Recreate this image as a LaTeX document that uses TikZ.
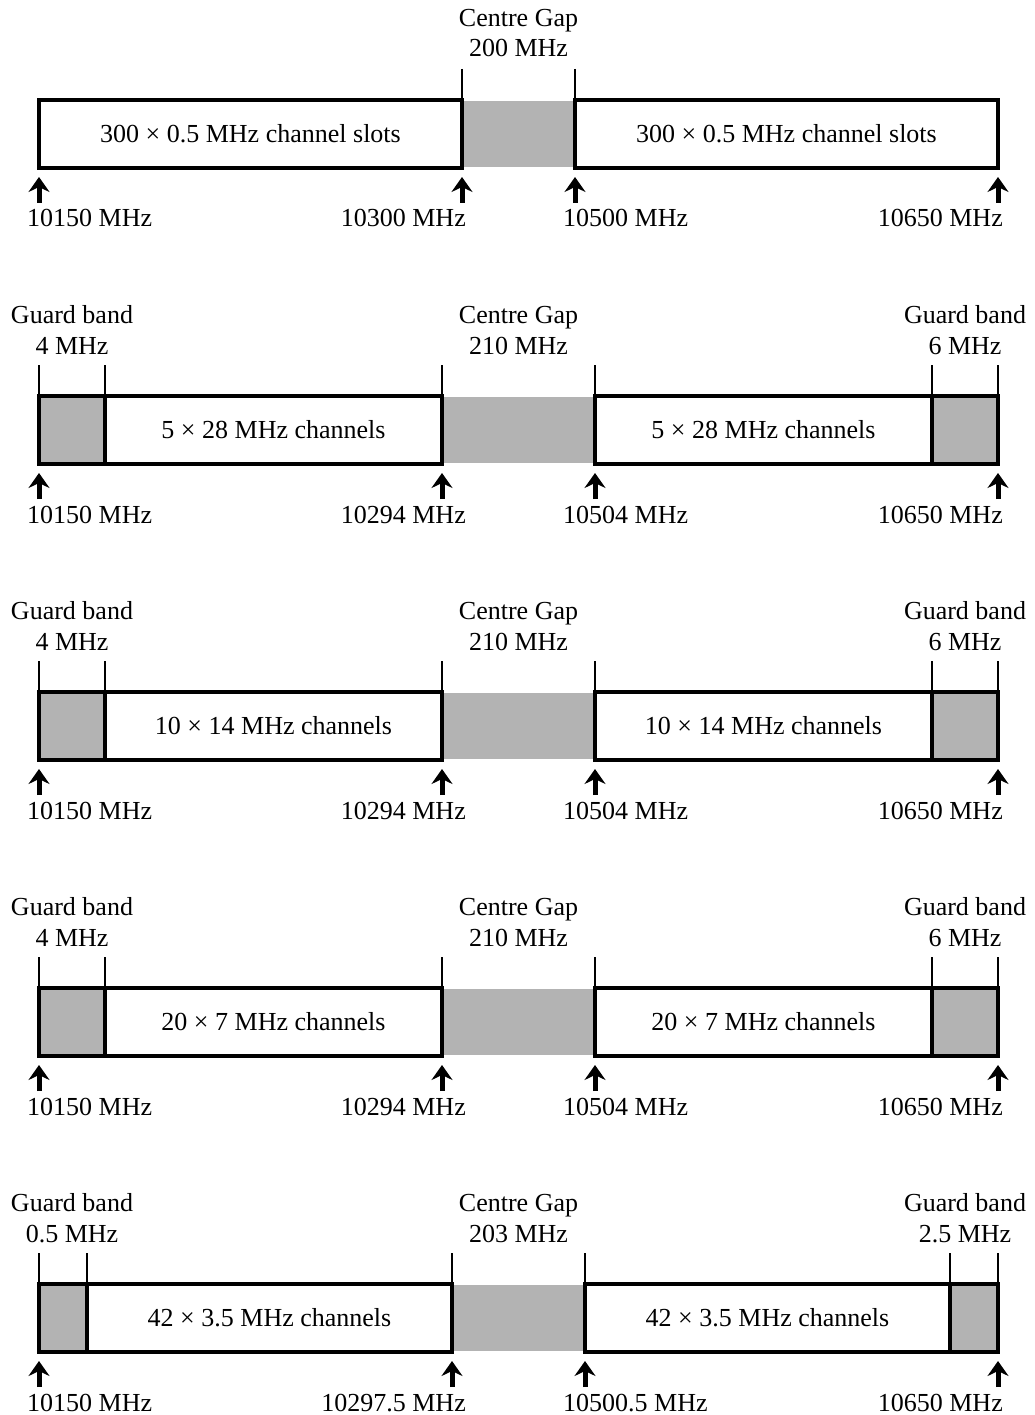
\documentclass[tikz,border=0pt]{standalone}
\usepackage{fontspec}
\setmainfont{Liberation Serif}
\usetikzlibrary{arrows.meta}
\definecolor{gapgray}{RGB}{179,179,179}
\tikzset{
  lbl/.style={font=\fontsize{26}{31}\selectfont, inner sep=0pt, anchor=base},
  chan/.style={draw=black, line width=4pt, fill=white, inner sep=0pt, outer sep=0pt, minimum height=68pt, font=\fontsize{26}{31}\selectfont},
  guard/.style={chan, fill=gapgray},
  gapfill/.style={fill=gapgray, inner sep=0pt, outer sep=0pt, minimum height=66pt},
  tick/.style={line width=1.3pt},
  uparrow/.style={line width=5pt, -{Stealth[length=15pt 0,width=21pt 0,inset=5pt 0]}},
}
\begin{document}
\begin{tikzpicture}[x=1pt,y=-1pt]
\useasboundingbox (0,0) rectangle (1034,1415);
% ---------- Row 1 ----------
\node[gapfill, minimum width=113pt] (gap1) at (518.5,134) {};
\node[chan, minimum width=423pt] (cl1) at (250.5,134) {300 × 0.5 MHz channel slots};
\node[chan, minimum width=423pt] (cr1) at (786.5,134) {300 × 0.5 MHz channel slots};
\node[lbl] (gapt1) at (518.5,27) {Centre Gap};
\node[lbl] (gapv1) at (518.5,57) {200 MHz};
\coordinate (t1b) at (462,69);
\coordinate (t1c) at (575,69);
\draw[tick] (t1b) -- (cl1.north east);
\draw[tick] (t1c) -- (cr1.north west);
\coordinate (a1at) at (39,203);  \coordinate (a1ah) at (39,177);
\coordinate (a1bt) at (462,203); \coordinate (a1bh) at (462,177);
\coordinate (a1ct) at (575,203); \coordinate (a1ch) at (575,177);
\coordinate (a1dt) at (998,203); \coordinate (a1dh) at (998,177);
\draw[uparrow] (a1at) -- (a1ah);
\draw[uparrow] (a1bt) -- (a1bh);
\draw[uparrow] (a1ct) -- (a1ch);
\draw[uparrow] (a1dt) -- (a1dh);
\node[lbl, anchor=base west] (f1a) at (27,227) {10150 MHz};
\node[lbl, anchor=base east] (f1b) at (466,227) {10300 MHz};
\node[lbl, anchor=base west] (f1c) at (563,227) {10500 MHz};
\node[lbl, anchor=base east] (f1d) at (1003,227) {10650 MHz};
% ---------- Rows 2-5 ----------
\foreach \r/\yt/\xa/\xb/\xc/\xd/\txt/\gl/\gap/\gr/\lb/\lc in {
  2/396/105/442/595/932/5 × 28 MHz channels/4 MHz/210 MHz/6 MHz/10294 MHz/10504 MHz,
  3/692/105/442/595/932/10 × 14 MHz channels/4 MHz/210 MHz/6 MHz/10294 MHz/10504 MHz,
  4/988/105/442/595/932/20 × 7 MHz channels/4 MHz/210 MHz/6 MHz/10294 MHz/10504 MHz,
  5/1284/87/452/585/950/42 × 3.5 MHz channels/0.5 MHz/203 MHz/2.5 MHz/10297.5 MHz/10500.5 MHz}
{
  \node[gapfill, minimum width={(\xc-\xb)*1pt}] (gap\r) at ({(\xb+\xc)/2},{\yt+34}) {};
  \node[guard, minimum width={(\xa-39)*1pt}] (gl\r) at ({(39+\xa)/2},{\yt+34}) {};
  \node[chan, minimum width={(\xb-\xa)*1pt}] (cl\r) at ({(\xa+\xb)/2},{\yt+34}) {\txt};
  \node[chan, minimum width={(\xd-\xc)*1pt}] (cr\r) at ({(\xc+\xd)/2},{\yt+34}) {\txt};
  \node[guard, minimum width={(998-\xd)*1pt}] (gr\r) at ({(\xd+998)/2},{\yt+34}) {};
  % top labels
  \node[lbl] (glt\r) at (72,{\yt-73}) {Guard band};
  \node[lbl] (glv\r) at (72,{\yt-42}) {\gl};
  \node[lbl] (gapt\r) at (518.5,{\yt-73}) {Centre Gap};
  \node[lbl] (gapv\r) at (518.5,{\yt-42}) {\gap};
  \node[lbl] (grt\r) at (965,{\yt-73}) {Guard band};
  \node[lbl] (grv\r) at (965,{\yt-42}) {\gr};
  % ticks
  \coordinate (t\r a) at (39,{\yt-31});
  \coordinate (t\r b) at (\xa,{\yt-31});
  \coordinate (t\r c) at (\xb,{\yt-31});
  \coordinate (t\r d) at (\xc,{\yt-31});
  \coordinate (t\r e) at (\xd,{\yt-31});
  \coordinate (t\r f) at (998,{\yt-31});
  \draw[tick] (t\r a) -- (gl\r.north west);
  \draw[tick] (t\r b) -- (cl\r.north west);
  \draw[tick] (t\r c) -- (cl\r.north east);
  \draw[tick] (t\r d) -- (cr\r.north west);
  \draw[tick] (t\r e) -- (gr\r.north west);
  \draw[tick] (t\r f) -- (gr\r.north east);
  % arrows
  \coordinate (a\r at) at (39,{\yt+103});  \coordinate (a\r ah) at (39,{\yt+77});
  \coordinate (a\r bt) at (\xb,{\yt+103}); \coordinate (a\r bh) at (\xb,{\yt+77});
  \coordinate (a\r ct) at (\xc,{\yt+103}); \coordinate (a\r ch) at (\xc,{\yt+77});
  \coordinate (a\r dt) at (998,{\yt+103}); \coordinate (a\r dh) at (998,{\yt+77});
  \draw[uparrow] (a\r at) -- (a\r ah);
  \draw[uparrow] (a\r bt) -- (a\r bh);
  \draw[uparrow] (a\r ct) -- (a\r ch);
  \draw[uparrow] (a\r dt) -- (a\r dh);
  % frequency labels
  \node[lbl, anchor=base west] (f\r a) at (27,{\yt+127}) {10150 MHz};
  \node[lbl, anchor=base east] (f\r b) at (466,{\yt+127}) {\lb};
  \node[lbl, anchor=base west] (f\r c) at (563,{\yt+127}) {\lc};
  \node[lbl, anchor=base east] (f\r d) at (1003,{\yt+127}) {10650 MHz};
}
\end{tikzpicture}
\end{document}
